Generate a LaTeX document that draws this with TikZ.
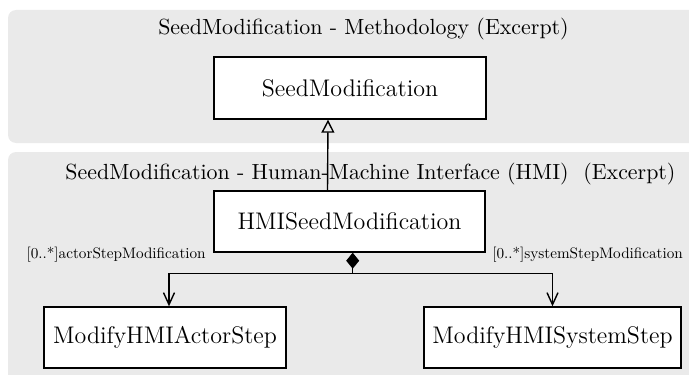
\documentclass[tikz,border=0pt]{standalone}
\usetikzlibrary{arrows.meta}
\definecolor{panelgray}{RGB}{234,234,234}
\tikzset{
  panel/.style={fill=panelgray, draw=none, rounded corners=4pt},
  cls/.style={draw, fill=white, line width=0.7pt, inner sep=0pt, font=\fontsize{12}{14}\selectfont},
  ttl/.style={inner sep=0pt, font=\fontsize{10.95}{13}\selectfont},
  role/.style={inner sep=0pt, font=\fontsize{10}{12}\selectfont, scale=0.76},
  conn/.style={line width=0.7pt},
}
\begin{document}
\begin{tikzpicture}[x=0.5pt,y=-0.5pt]
\useasboundingbox (0,0) rectangle (689,374);
\fill[panel] (8,10) rectangle (710,143);
\fill[panel] (8,152) rectangle (710,400);
\node[ttl] (t1) at (363.5,29) {SeedModification - Methodology (Excerpt)};
\node[ttl] (t2) at (370.5,174) {SeedModification - Human-Machine Interface (HMI)\ \ (Excerpt)};
\node[cls, minimum width=136pt, minimum height=31pt] (seed) at (350,88) {SeedModification};
\node[cls, minimum width=135.5pt, minimum height=30.5pt] (hmi) at (349.5,221.5) {HMISeedModification};
\node[cls, minimum width=121pt, minimum height=30.5pt] (actor) at (165,337.5) {ModifyHMIActorStep};
\node[cls, minimum width=128.5pt, minimum height=30.5pt] (sys) at (552.5,337.5) {ModifyHMISystemStep};
\node[role, anchor=east] (ra) at (206,255) {[0..*]actorStepModification};
\node[role, anchor=west] (rs) at (492,255) {[0..*]systemStepModification};
\coordinate (jn) at (352.7,273.5);
\draw[conn, -{Triangle[open, length=6.5pt, width=6.5pt]}] ([xshift=-11pt]hmi.north) -- ([xshift=-11pt]seed.south);
\draw[conn, {Diamond[length=8pt, width=6.5pt]}-] (hmi.south -| jn) -- (jn);
\draw[conn, -{Straight Barb[length=6pt, width=5.5pt]}] (jn) -| ([xshift=2pt]actor.north);
\draw[conn, -{Straight Barb[length=6pt, width=5.5pt]}] (jn) -| (sys.north);
\end{tikzpicture}
\end{document}
